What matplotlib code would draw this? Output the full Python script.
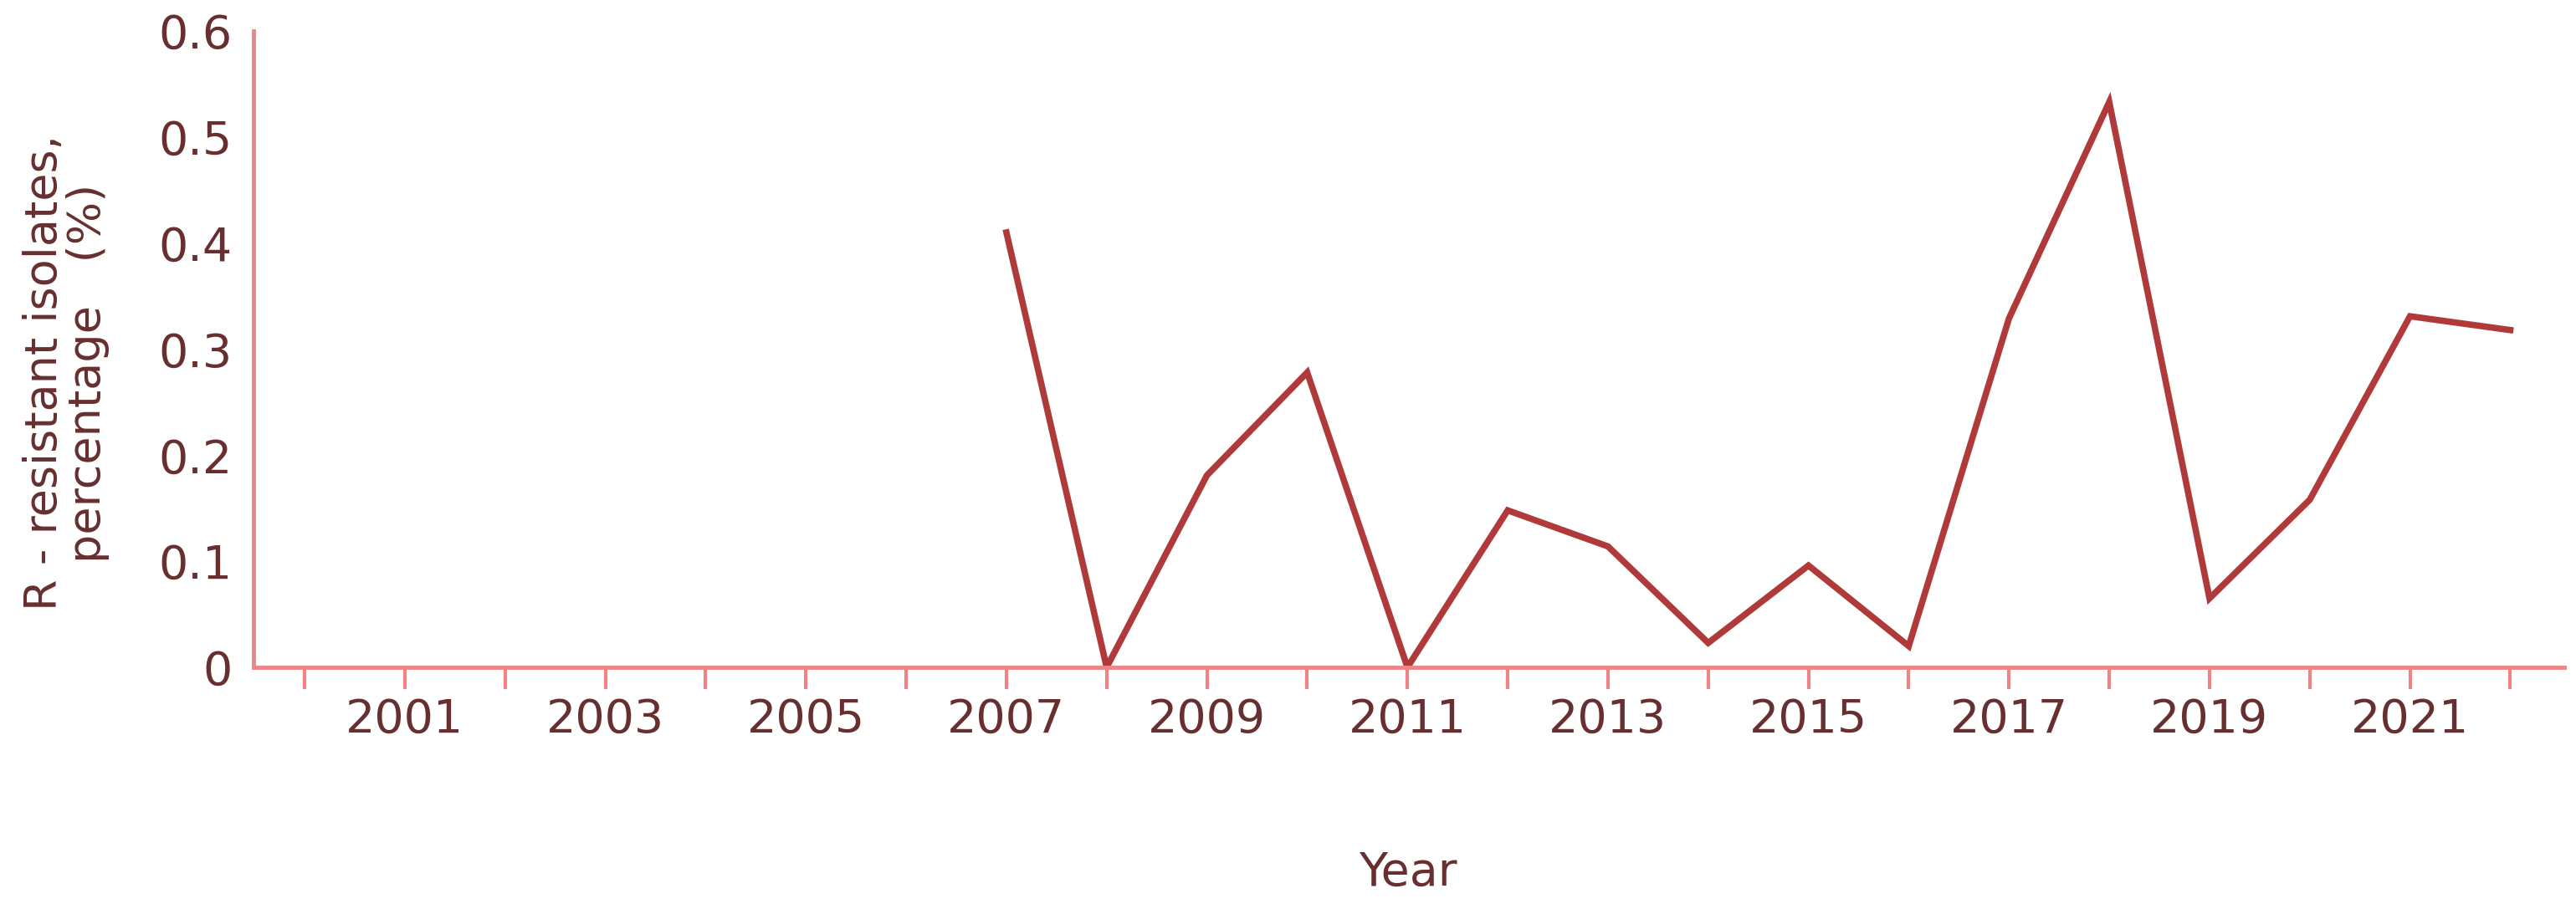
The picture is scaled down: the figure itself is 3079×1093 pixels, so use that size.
import matplotlib
matplotlib.use("Agg")
import matplotlib.pyplot as plt

years = [2007, 2008, 2009, 2010, 2011, 2012, 2013, 2014, 2015, 2016, 2017, 2018, 2019, 2020, 2021, 2022]
values = [0.41, 0.0, 0.181, 0.278, 0.0, 0.148, 0.114, 0.023, 0.096, 0.02, 0.329, 0.533, 0.065, 0.158, 0.331, 0.318]
tick_years = list(range(2000, 2023))
label_years = [str(y) if y % 2 == 1 else "" for y in tick_years]
yticks = [0, 0.1, 0.2, 0.3, 0.4, 0.5, 0.6]
ytick_labels = ["0", "0.1", "0.2", "0.3", "0.4", "0.5", "0.6"]
ylabel = "R - resistant isolates,\npercentage   (%)"
xlabel = "Year"

text_c = "#672f2f"
axis_c = "#f08484"
line_c = "#b03a3a"

plt.rcParams['font.family'] = ['DejaVu Sans']
fig = plt.figure(figsize=(30.79, 10.93), dpi=100)
ax = fig.add_axes([0.0984, 0.2699, 0.8971, 0.6962])
ax.plot(years, values, color=line_c, lw=5.5, solid_joinstyle='miter')
ax.set_xlim(1999.49, 2022.54)
ax.set_ylim(0, 0.6)
ax.set_xticks(tick_years)
ax.set_xticklabels(label_years)
ax.set_yticks(yticks)
ax.set_yticklabels(ytick_labels)
for s in ['top', 'right']:
    ax.spines[s].set_visible(False)
for s in ['left', 'bottom']:
    ax.spines[s].set_color(axis_c)
    ax.spines[s].set_linewidth(3.5)
    ax.spines[s].set_capstyle('projecting')
ax.tick_params(axis='x', length=19, width=3, color=axis_c, pad=7, labelsize=40, labelcolor=text_c)
ax.tick_params(axis='y', length=0, pad=18, labelsize=40, labelcolor=text_c)
fig.text(0.0257, 0.592, ylabel, rotation=90,
         ha='center', va='center', multialignment='center', fontsize=39, color=text_c,
         linespacing=1.0)
fig.text(0.5466, 0.045, xlabel, ha='center', va='center', fontsize=40, color=text_c)
fig.savefig("out.png", dpi=100)
